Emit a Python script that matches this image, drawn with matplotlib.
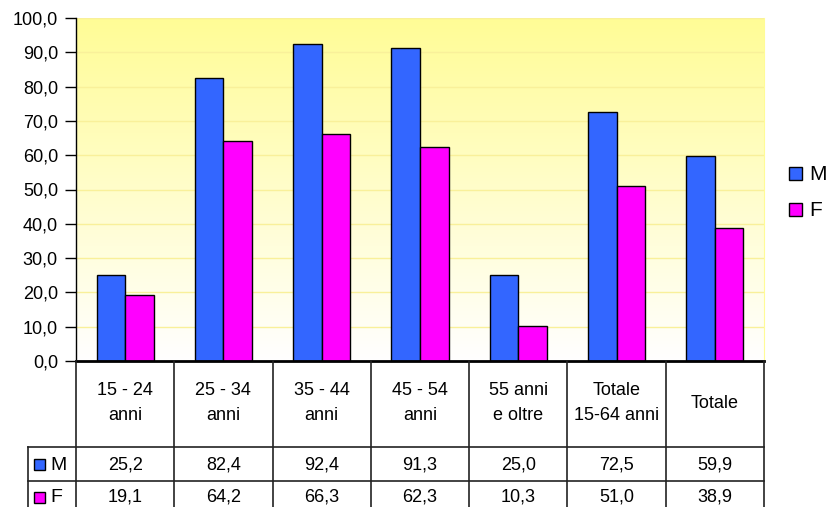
import numpy as np
import matplotlib
matplotlib.use("Agg")
import matplotlib.pyplot as plt
from matplotlib.colors import LinearSegmentedColormap

plt.rcParams["font.family"] = ["Liberation Sans", "DejaVu Sans"]

categories = ["15 - 24\nanni", "25 - 34\nanni", "35 - 44\nanni", "45 - 54\nanni",
              "55 anni\ne oltre", "Totale\n15-64 anni", "Totale"]
series_names = ["M", "F"]
values_m = [25.2, 82.4, 92.4, 91.3, 25.0, 72.5, 59.9]
values_f = [19.1, 64.2, 66.3, 62.3, 10.3, 51.0, 38.9]
yticks = [0, 10, 20, 30, 40, 50, 60, 70, 80, 90, 100]

BLUE = "#3366FF"
MAGENTA = "#FF00FF"
W, H = 832, 507
FS = 13

fig = plt.figure(figsize=(W / 100, H / 100), dpi=100)


def px_rect(x0, y0, x1, y1):
    return [x0 / W, 1 - y1 / H, (x1 - x0) / W, (y1 - y0) / H]


def fmt(v):
    return f"{v:.1f}".replace(".", ",")


# plot area
PL, PT, PR, PB = 76, 18, 764, 361
ax = fig.add_axes(px_rect(PL, PT, PR, PB))
n = len(categories)
ax.set_xlim(-0.5, n - 0.5)
ax.set_ylim(0, 100)

# yellow -> white gradient
cmap = LinearSegmentedColormap.from_list("bg", ["#FFFFFF", "#FFFC96"])
grad = np.linspace(0, 1, 256).reshape(-1, 1)
ax.imshow(grad, cmap=cmap, origin="lower", aspect="auto",
          extent=[-0.5, n - 0.5, 0, 100], zorder=0)

for t in yticks[1:]:
    ax.axhline(t, color="#F9F09A", lw=1.0, zorder=1)

x = np.arange(n)
bw = 0.29
ax.bar(x - bw / 2, values_m, bw, color=BLUE, edgecolor="black", lw=1.0, zorder=3)
ax.bar(x + bw / 2, values_f, bw, color=MAGENTA, edgecolor="black", lw=1.0, zorder=3)

ax.set_yticks(yticks)
ax.set_yticklabels([fmt(t) for t in yticks], fontsize=FS)
ax.tick_params(axis="y", direction="out", length=8, width=1, pad=5)
ax.set_xticks([])
ax.spines["top"].set_visible(False)
ax.spines["right"].set_color("#FFFC96")
ax.spines["left"].set_linewidth(1.0)
ax.spines["bottom"].set_linewidth(2.0)
ax.spines["bottom"].set_zorder(5)

# data table overlay in pixel coordinates
tab = fig.add_axes([0, 0, 1, 1])
tab.set_xlim(0, W)
tab.set_ylim(H, 0)
tab.axis("off")
tab.patch.set_alpha(0)

cw = (PR - PL) / n
edges = [PL + k * cw for k in range(n + 1)]
LX = 28
R1, R2, R3 = 447, 481, 512
lc = "#222222"
for e in edges:
    tab.plot([e, e], [PB, R3], color=lc, lw=1.2)
tab.plot([LX, LX], [R1, R3], color=lc, lw=1.2)
tab.plot([LX, PR], [R1, R1], color=lc, lw=1.2)
tab.plot([LX, PR], [R2, R2], color=lc, lw=1.2)

for k, cat in enumerate(categories):
    cx = (edges[k] + edges[k + 1]) / 2
    tab.text(cx, (PB + R1) / 2 - 1, cat, ha="center", va="center",
             fontsize=FS, linespacing=1.65)
    tab.text(cx, (R1 + R2) / 2 + 1, fmt(values_m[k]),
             ha="center", va="center", fontsize=FS)
    tab.text(cx, 497, fmt(values_f[k]),
             ha="center", va="center", fontsize=FS)

for name, col, yc in [(series_names[0], BLUE, (R1 + R2) / 2),
                      (series_names[1], MAGENTA, 497)]:
    tab.add_patch(plt.Rectangle((34, yc - 5), 11, 11, facecolor=col,
                                edgecolor="black", lw=1.0))
    tab.text(50, yc + 1, name, ha="left", va="center", fontsize=FS + 1)

# legend at right
for name, col, yc in [(series_names[0], BLUE, 173), (series_names[1], MAGENTA, 209)]:
    tab.add_patch(plt.Rectangle((789, yc - 6), 13, 13, facecolor=col,
                                edgecolor="black", lw=1.0))
    tab.text(809, yc + 1, name, ha="left", va="center", fontsize=FS + 2)

fig.savefig("out.png", dpi=100)
